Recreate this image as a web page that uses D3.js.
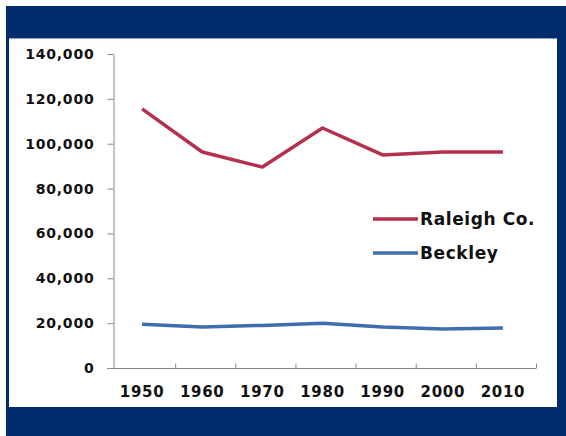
<!DOCTYPE html>
<html>
<head>
<meta charset="utf-8">
<script src="https://cdn.jsdelivr.net/npm/d3@7"></script>
<style>
  body { margin: 0; background: #fff; }
  text { font-family: "DejaVu Sans", sans-serif; font-weight: bold; fill: #111; }
</style>
</head>
<body>
<script>
// data
var years    = ["1950", "1960", "1970", "1980", "1990", "2000", "2010"];
var raleigh  = [115500, 96300, 89600, 107000, 95000, 96300, 96300];
var beckley  = [19500, 18300, 19000, 19900, 18300, 17400, 17800];
var yTicks   = [0, 20000, 40000, 60000, 80000, 100000, 120000, 140000];
var seriesNames  = ["Raleigh Co.", "Beckley"];
var seriesColors = ["#b5304f", "#3f6db0"];

var W = 566, H = 436;

var svg = d3.select("body")
            .append("svg")
            .attr("width",  W)
            .attr("height", H);

// navy frame
svg.append("rect").attr("x", 6).attr("y", 6).attr("width", W - 6).attr("height", H - 6)
   .attr("fill", "#002c6b");
svg.append("rect").attr("x", 9).attr("y", 38).attr("width", 548).attr("height", 369)
   .attr("fill", "#fff");
svg.append("line").attr("x1", 9).attr("x2", 557).attr("y1", 38.5).attr("y2", 38.5)
   .attr("stroke", "#8fa3c6").attr("stroke-width", 1);

var x = d3.scaleBand()
          .domain(years)
          .range([115, 536]);   // pixel space

var y = d3.scaleLinear()
          .domain([0, 140000])  // data space
          .range([368, 54]);

var g = svg.append("g");

// y axis
var yAxis = g.append("g")
  .attr("transform", "translate(113.5,0)")
  .call(d3.axisLeft(y).tickValues(yTicks).tickSize(6).tickSizeOuter(0)
          .tickPadding(13).tickFormat(d3.format(",")));
yAxis.selectAll("text").attr("font-size", 14).style("letter-spacing", "0.8px");

// x axis: boundary ticks pointing up, labels centred in bands
var bounds = d3.scaleLinear().domain([0, years.length]).range(x.range());
var xTickAxis = g.append("g")
  .attr("transform", "translate(0,368.5)")
  .call(d3.axisBottom(bounds).tickValues(d3.range(1, years.length + 1))
          .tickSize(-5).tickSizeOuter(0).tickFormat(""));
xTickAxis.select(".domain").attr("d", "M107,0H" + bounds(years.length));

var xLab = g.append("g")
  .attr("transform", "translate(-3,368)")
  .call(d3.axisBottom(x).tickSize(0).tickPadding(18));
xLab.select(".domain").remove();
xLab.selectAll("text").attr("font-size", 15).style("letter-spacing", "0.7px");

g.selectAll(".domain, .tick line").attr("stroke", "#8a8a8a");
g.selectAll("text").attr("fill", "#111");

// lines
var line = d3.line()
  .x(function(d, i){ return x(years[i]) + x.bandwidth() / 2 - 3; })
  .y(function(d){ return y(d); });

[raleigh, beckley].forEach(function(s, k){
  svg.append("path")
     .datum(s)
     .attr("d", line)
     .attr("fill", "none")
     .attr("stroke", seriesColors[k])
     .attr("stroke-width", 3.5)
     .attr("stroke-linejoin", "round");
});

// legend
var leg = svg.selectAll("g.leg")
  .data(seriesNames)
  .enter().append("g")
  .attr("class", "leg")
  .attr("transform", function(d, i){ return "translate(373," + (219 + i * 34) + ")"; });
leg.append("line")
   .attr("x1", 0).attr("x2", 45)
   .attr("stroke", function(d, i){ return seriesColors[i]; })
   .attr("stroke-width", 3.5);
leg.append("text")
   .attr("x", 47).attr("dy", "0.36em")
   .attr("font-size", 17)
   .style("letter-spacing", "0.6px")
   .text(function(d){ return d; });
</script>
</body>
</html>
